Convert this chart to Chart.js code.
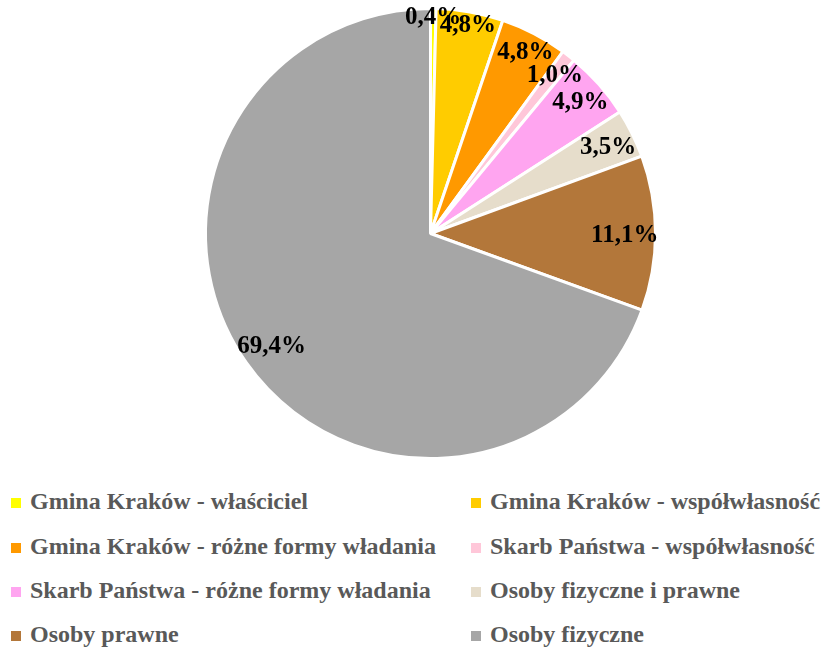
<!DOCTYPE html>
<html>
<head>
<meta charset="utf-8">
<script src="https://cdn.jsdelivr.net/npm/chart.js@4"></script>
<style>
  html, body { margin:0; padding:0; background:#fff; }
  #wrap { position:relative; width:822px; height:650px; overflow:hidden; }
  #c { position:absolute; left:0; top:0; }
  .lg { position:absolute; font-family:"Liberation Serif","Times New Roman",serif; font-weight:bold; font-size:24px; color:#595959; white-space:nowrap; line-height:24px; }
  .lg .box { position:absolute; width:10px; height:10px; left:-19px; top:9px; }
</style>
</head>
<body>
<div id="wrap">
  <canvas id="c" width="822" height="470"></canvas>
  <div id="legend"></div>
</div>
<script>
const categories = [
  "Gmina Kraków - właściciel",
  "Gmina Kraków - współwłasność",
  "Gmina Kraków - różne formy władania",
  "Skarb Państwa - współwłasność",
  "Skarb Państwa - różne formy władania",
  "Osoby fizyczne i prawne",
  "Osoby prawne",
  "Osoby fizyczne"
];
const shares = [0.4, 4.8, 4.8, 1.0, 4.9, 3.5, 11.1, 69.4];
const colors = ["#FFFF00", "#FFCC00", "#FF9900", "#FFC7D9", "#FFA5F0", "#E6DDCB", "#B3773A", "#A6A6A6"];

const labelPlugin = {
  id: 'pctLabels',
  afterDatasetsDraw(chart) {
    const ctx = chart.ctx;
    const meta = chart.getDatasetMeta(0);
    ctx.save();
    ctx.font = 'bold 25px "Liberation Serif", "Times New Roman", serif';
    ctx.fillStyle = '#000';
    ctx.textAlign = 'center';
    ctx.textBaseline = 'middle';
    meta.data.forEach((arc, i) => {
      const p = arc.getProps(['x','y','startAngle','endAngle','outerRadius'], true);
      const mid = (p.startAngle + p.endAngle) / 2;
      const txt = shares[i].toFixed(1).replace('.', ',') + '%';
      const hw = ctx.measureText(txt).width / 2;
      const hh = 10;
      const d = p.outerRadius + 3 - (hw * Math.abs(Math.cos(mid)) + hh * Math.abs(Math.sin(mid)));
      ctx.fillText(txt, p.x + d * Math.cos(mid), p.y + d * Math.sin(mid) + 2);
    });
    ctx.restore();
  }
};

new Chart(document.getElementById('c'), {
  type: 'pie',
  data: {
    labels: categories,
    datasets: [{
      data: shares,
      backgroundColor: colors,
      borderColor: '#ffffff',
      borderWidth: 3
    }]
  },
  options: {
    responsive: false,
    animation: false,
    devicePixelRatio: 1,
    layout: { padding: { top: 7, left: 39, right: 0, bottom: 10 } },
    plugins: { legend: { display: false }, tooltip: { enabled: false } }
  },
  plugins: [labelPlugin]
});

// HTML legend, two columns
const legend = document.getElementById('legend');
const colX = [30, 490];
const rowY = [489, 534, 578, 622];
categories.forEach((name, i) => {
  const d = document.createElement('div');
  d.className = 'lg';
  d.style.left = colX[i % 2] + 'px';
  d.style.top = rowY[Math.floor(i / 2)] + 'px';
  const b = document.createElement('span');
  b.className = 'box';
  b.style.background = colors[i];
  d.appendChild(b);
  d.appendChild(document.createTextNode(name));
  legend.appendChild(d);
});
</script>
</body>
</html>
